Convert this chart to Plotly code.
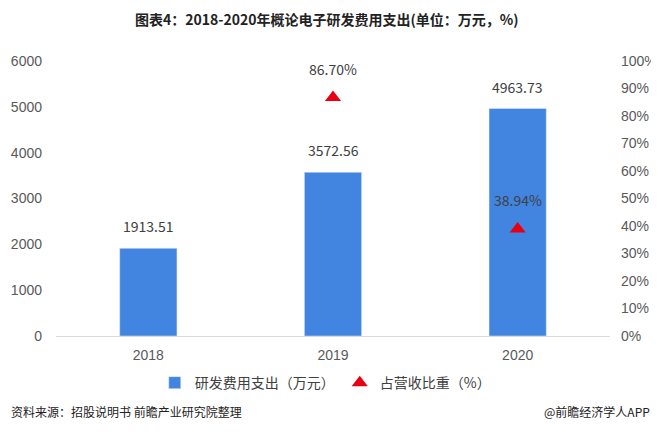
import plotly.graph_objects as go

years = ["2018", "2019", "2020"]
rd_spend = [1913.51, 3572.56, 4963.73]          # 万元
rd_ratio_years = ["2019", "2020"]
rd_ratio = [86.70, 38.94]                       # %

title = "<b>图表4：2018-2020年概论电子研发费用支出(单位：万元，%)</b>"
source_text = "资料来源：招股说明书 前瞻产业研究院整理"
brand_text = "@前瞻经济学人APP"

font_cn = "Noto Sans CJK SC"
grey = "#404040"

fig = go.Figure()

fig.add_trace(go.Bar(
    x=years, y=rd_spend,
    name="研发费用支出（万元）",
    marker=dict(color="#4285e0"),
    yaxis="y",
))

fig.add_trace(go.Scatter(
    x=rd_ratio_years, y=rd_ratio,
    name="占营收比重（%）",
    mode="markers",
    marker=dict(symbol="triangle-up", size=14, color="#e60012"),
    yaxis="y2",
))

# value labels (category axis -> use category index for annotations)
for _x, _v in zip(years, rd_spend):
    fig.add_annotation(x=years.index(_x), y=_v, yref="y", text=f"{_v:.2f}",
                       showarrow=False, yanchor="bottom", yshift=10,
                       font=dict(size=14, color=grey, family=font_cn))
for _x, _v in zip(rd_ratio_years, rd_ratio):
    fig.add_annotation(x=years.index(_x), y=_v, yref="y2", text=f"{_v:.2f}%",
                       showarrow=False, yanchor="bottom", yshift=17,
                       font=dict(size=14, color=grey, family=font_cn))

# title and footer
fig.add_annotation(x=0.49, y=1, xref="paper", yref="paper", yanchor="bottom",
                   yshift=30, text=title, showarrow=False,
                   font=dict(size=14, color="#222222", family=font_cn))
fig.add_annotation(x=0, y=0, xref="paper", yref="paper", xanchor="left",
                   yanchor="middle", xshift=-47, yshift=-75, text=source_text,
                   showarrow=False,
                   font=dict(size=12, color="#222222", family=font_cn))
fig.add_annotation(x=1, y=0, xref="paper", yref="paper", xanchor="right",
                   yanchor="middle", xshift=42, yshift=-75, text=brand_text,
                   showarrow=False,
                   font=dict(size=12, color="#222222", family=font_cn))

# page body keeps its default 8px margin, so the figure is sized to fit inside it
fig.update_layout(
    width=651, height=432,
    autosize=False,
    margin=dict(l=47.5, r=48.5, t=53, b=104),
    plot_bgcolor="white",
    paper_bgcolor="white",
    bargap=0.69,
    font=dict(family=font_cn, color=grey),
    xaxis=dict(
        type="category",
        categoryorder="array", categoryarray=years,
        range=[-0.5, 2.5],
        showgrid=False, automargin=False,
        showline=True, linecolor="#d9d9d9", linewidth=1,
        ticks="", tickfont=dict(size=14, color="#595959", family="Liberation Sans"),
        ticklabelstandoff=6,
    ),
    yaxis=dict(
        range=[0, 6000], dtick=1000,
        showgrid=False, zeroline=False, automargin=False,
        tickfont=dict(size=14, color="#595959", family="Liberation Sans"),
        ticklabelstandoff=13,
    ),
    yaxis2=dict(
        range=[0, 100], dtick=10, ticksuffix="%",
        overlaying="y", side="right",
        showgrid=False, zeroline=False, automargin=False,
        tickfont=dict(size=14, color="#595959", family="Liberation Sans"),
        ticklabelstandoff=10,
    ),
    legend=dict(
        orientation="h",
        x=0.486, xanchor="center",
        y=-0.171, yanchor="middle",
        font=dict(size=14, color=grey, family=font_cn),
        itemwidth=30,
    ),
)

fig.write_html("out.html")
